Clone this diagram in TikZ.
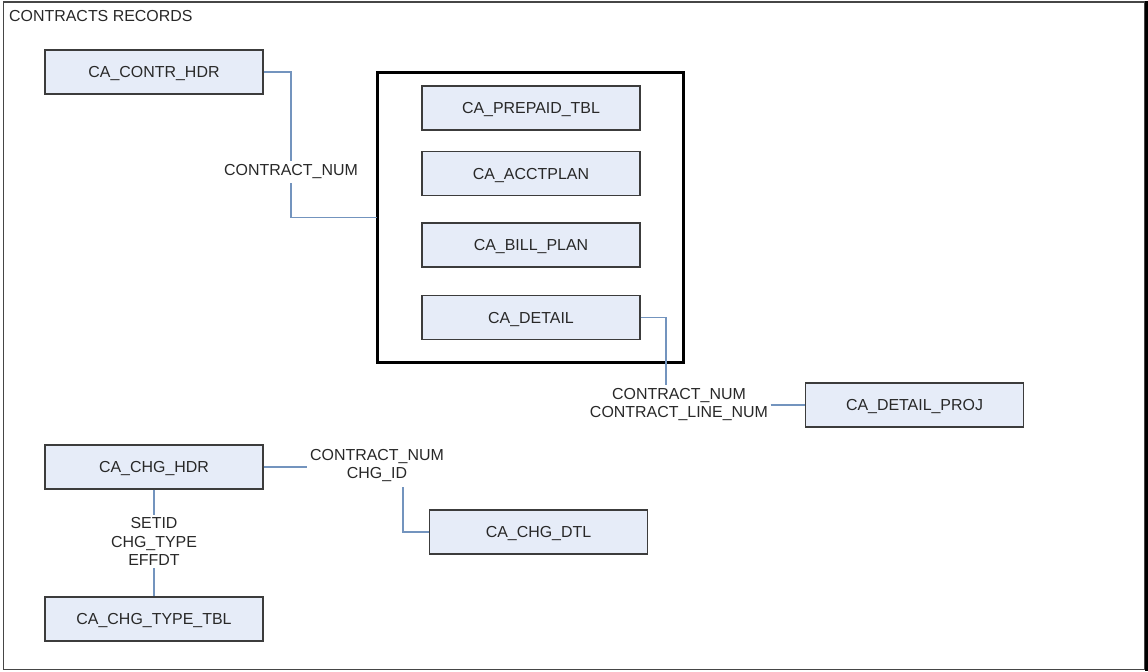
\documentclass[tikz,border=0pt]{standalone}
\usepackage{fontspec}
\setmainfont{Liberation Sans}
\definecolor{boxfill}{RGB}{230,236,248}
\definecolor{boxline}{RGB}{60,60,60}
\definecolor{conn}{RGB}{115,148,190}
\definecolor{frameline}{RGB}{70,70,70}
\definecolor{txt}{RGB}{40,40,40}
\begin{document}
\begin{tikzpicture}[x=1bp,y=-1bp,
  tbl/.style={draw=boxline, fill=boxfill, line width=1.2bp, minimum width=218bp, minimum height=44bp, inner sep=0pt, text height=11.5bp, text depth=0bp, text=txt, font=\fontsize{16}{19}\selectfont},
  lbl/.style={align=center, inner sep=2.5bp, text=txt, font=\fontsize{16}{18.5}\selectfont},
  link/.style={draw=conn, line width=1.3bp}]
\useasboundingbox (0,0) rectangle (1148,672);
\fill[white] (0,0) rectangle (1148,672);
% outer frame
\draw[frameline, line width=1.5bp] (3.5,2) rectangle (1145,669.5);
\draw[black, line width=3bp] (1146.5,1) -- (1146.5,670.5);
\node[anchor=west, inner sep=0pt, text=txt, font=\fontsize{16}{19}\selectfont] (title) at (9,16) {CONTRACTS RECORDS};
% group box
\draw[black, line width=3bp] (377,73) rectangle (683,362);
\coordinate (grpwest) at (377,217.5);
% tables
\node[tbl] (contr) at (154,72) {CA\_CONTR\_HDR};
\node[tbl] (prepaid) at (531,108) {CA\_PREPAID\_TBL};
\node[tbl] (acct) at (531,173.5) {CA\_ACCTPLAN};
\node[tbl] (bill) at (531,245) {CA\_BILL\_PLAN};
\node[tbl] (detail) at (531,317.5) {CA\_DETAIL};
\node[tbl] (detproj) at (914.5,405) {CA\_DETAIL\_PROJ};
\node[tbl] (chghdr) at (154,467) {CA\_CHG\_HDR};
\node[tbl] (chgtype) at (154,619) {CA\_CHG\_TYPE\_TBL};
\node[tbl] (chgdtl) at (538.5,532) {CA\_CHG\_DTL};
% labels
\node[lbl, inner sep=4bp] (l1) at (291,172) {CONTRACT\_NUM};
\node[lbl] (l2) at (679,404.5) {CONTRACT\_NUM\\CONTRACT\_LINE\_NUM};
\node[lbl] (l3) at (377,465.5) {CONTRACT\_NUM\\CHG\_ID};
\node[lbl] (l4) at (154,541.5) {SETID\\CHG\_TYPE\\EFFDT};
\coordinate (c2) at (666,385);
\coordinate (c3) at (403,487);
% connectors
\draw[link] (contr.east) -| (l1.north);
\draw[link] (l1.south) |- (grpwest);
\draw[link] (detail.east) -| (c2);
\draw[link] (l2.east |- detproj.west) -- (detproj.west);
\draw[link] (chghdr.east) -- (l3.west |- chghdr.east);
\draw[link] (c3) |- (chgdtl.west);
\draw[link] (chghdr.south) -- (l4.north);
\draw[link] (l4.south) -- (chgtype.north);
\end{tikzpicture}
\end{document}
